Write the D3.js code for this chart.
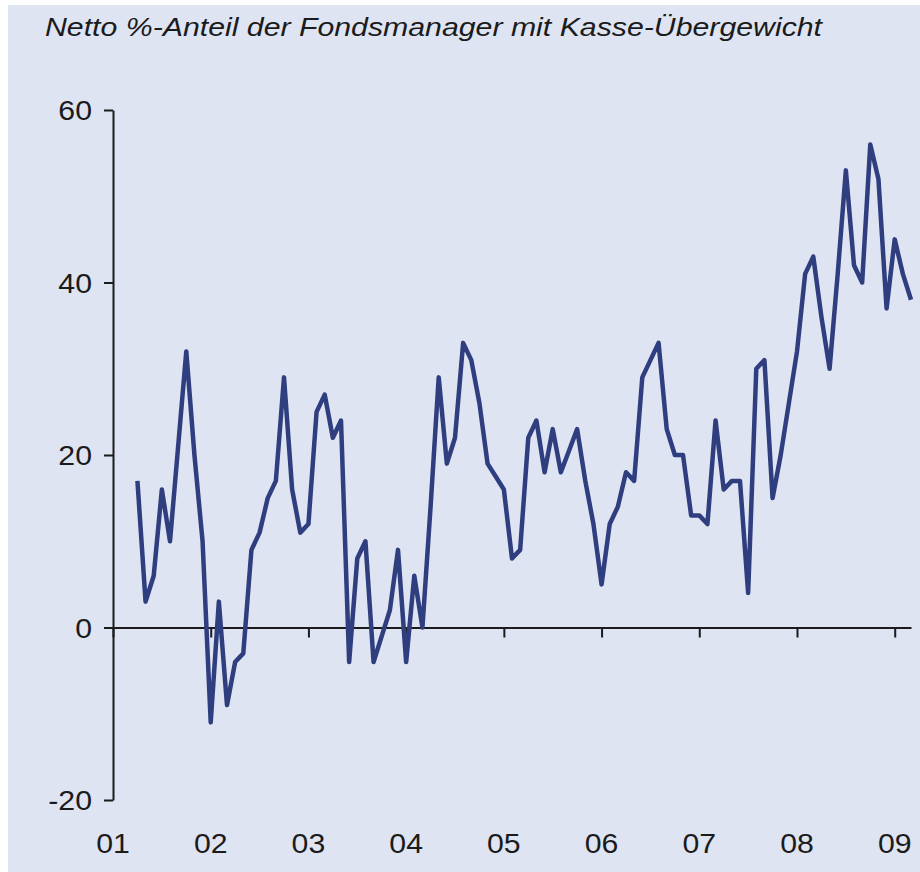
<!DOCTYPE html>
<html>
<head>
<meta charset="utf-8">
<script src="https://cdn.jsdelivr.net/npm/d3@7/dist/d3.min.js"></script>
<style>
  body { margin: 0; background: #fff; }
  text { font-family: 'Liberation Sans', Arial, sans-serif; fill: #1b1b1b; }
</style>
</head>
<body>
<svg id="chart"></svg>
<script>
const WIDTH = 920;
const HEIGHT = 872;
const BG = '#dfe4f2';
const LINE_COLOR = '#2f3e7e';
const TITLE = 'Netto %-Anteil der Fondsmanager mit Kasse-Übergewicht';

// first value is April 2001 (months counted from January 2001)
const START_MONTH = 3;

const values2001 = [17, 3, 6, 16, 10, 21, 32, 20, 10];
const values2002 = [-11, 3, -9, -4, -3, 9, 11, 15, 17, 29, 16, 11];
const values2003 = [12, 25, 27, 22, 24, -4, 8, 10, -4, -1, 2, 9];
const values2004 = [-4, 6, 0, 14, 29, 19, 22, 33, 31, 26, 19, 17.5];
const values2005 = [16, 8, 9, 22, 24, 18, 23, 18, 20.5, 23, 17, 12];
const values2006 = [5, 12, 14, 18, 17, 29, 31, 33, 23, 20, 20, 13];
const values2007 = [13, 12, 24, 16, 17, 17, 4, 30, 31, 15, 20, 26];
const values2008 = [32, 41, 43, 36, 30, 41, 53, 42, 40, 56, 52, 37];
const values2009 = [45, 41, 38];

const yearLabels = ['01', '02', '03', '04', '05', '06', '07', '08', '09'];
const yTicks = [-20, 0, 20, 40, 60];

const values = [].concat(values2001, values2002, values2003, values2004,
  values2005, values2006, values2007, values2008, values2009);

const svg = d3.select('#chart')
  .attr('width', WIDTH)
  .attr('height', HEIGHT);

svg.append('rect')
  .attr('x', 8)
  .attr('y', 5)
  .attr('width', WIDTH - 8)
  .attr('height', HEIGHT - 5)
  .attr('fill', BG);

// Title
svg.append('text')
  .attr('x', 45)
  .attr('y', 36)
  .attr('font-size', 26)
  .attr('font-style', 'italic')
  .attr('textLength', 777)
  .attr('lengthAdjust', 'spacingAndGlyphs')
  .text(TITLE);

// Scales
const x = d3.scaleLinear()
  .domain([0, 98])
  .range([113, 911]);

const y = d3.scaleLinear()
  .domain([-20, 60])
  .range([800, 110]);

// Y axis
svg.append('g')
  .attr('transform', 'translate(' + x(0) + ',0)')
  .call(d3.axisLeft(y).tickValues(yTicks).tickSize(9).tickSizeOuter(0).tickFormat(''));

// X axis on zero line
const xTickValues = yearLabels.map((d, i) => i * 12);
svg.append('g')
  .attr('transform', 'translate(0,' + y(0) + ')')
  .call(d3.axisBottom(x).tickValues(xTickValues).tickSize(10).tickSizeOuter(0).tickFormat(''));

svg.selectAll('.domain, .tick line')
  .attr('stroke', '#1b1b1b')
  .attr('stroke-width', 2);

// Y tick labels
svg.append('g')
  .selectAll('text')
  .data(yTicks)
  .enter()
  .append('text')
  .attr('transform', d => 'translate(92,' + (y(d) + 10) + ') scale(1.08,1)')
  .attr('text-anchor', 'end')
  .attr('font-size', 28)
  .text(d => d);

// X tick labels
svg.append('g')
  .selectAll('text')
  .data(yearLabels)
  .enter()
  .append('text')
  .attr('transform', (d, i) => 'translate(' + x(i * 12) + ',853) scale(1.08,1)')
  .attr('text-anchor', 'middle')
  .attr('font-size', 28)
  .text(d => d);

// Data line
const line = d3.line()
  .x((d, i) => x(START_MONTH + i))
  .y(d => y(d));

svg.append('path')
  .datum(values)
  .attr('fill', 'none')
  .attr('stroke', LINE_COLOR)
  .attr('stroke-width', 4.5)
  .attr('stroke-linejoin', 'round')
  .attr('stroke-linecap', 'butt')
  .attr('d', line);
</script>
</body>
</html>
